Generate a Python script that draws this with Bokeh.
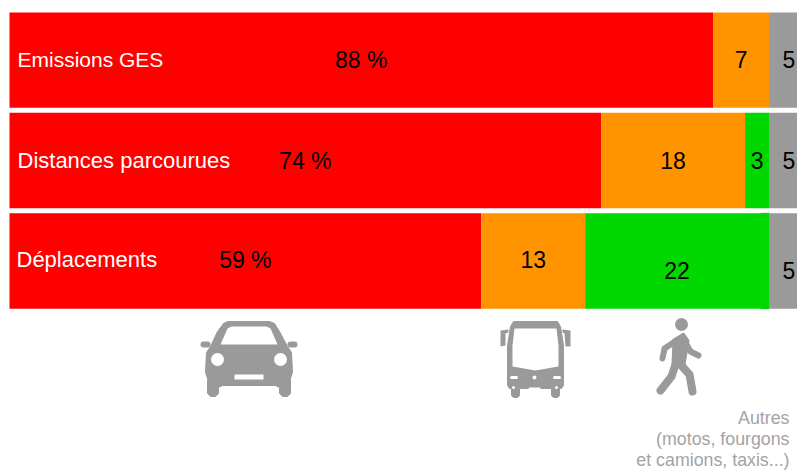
from bokeh.core.properties import value
from bokeh.embed import file_html
from bokeh.models import ColumnDataSource, Range1d
from bokeh.plotting import figure
from bokeh.resources import INLINE

rows = ["Emissions GES", "Distances parcourues", "Déplacements"]
car = [88, 74, 59]
bus = [7, 18, 13]
walk = [0, 3, 22]
other = [5, 5, 5]
# The Déplacements shares are rounded and add up to 99; the spare point sits
# after the walking segment so that every bar still runs to 100.
rounding = [0, 0, 1]
note_lines = ["Autres", "(motos, fourgons", "et camions, taxis...)"]

RED = "#ff0000"
ORANGE = "#ff9400"
GREEN = "#00d800"
GREY = "#9b9a9b"
NOTE = "#a3a3a3"
FONT = value("Liberation Sans")

W, H = 797, 471
UNIT = 7.995  # pixels per percentage point
X0 = 9

row_y = [59.7, 160, 260.5]
row_h = 95.3
number_y = [[59, 59, 59], [160, 160, 160, 160], [259, 259, 270, 270]]

p = figure(
    width=W, height=H, output_backend="svg", toolbar_location=None,
    x_range=Range1d(-X0 / UNIT, (W - X0) / UNIT),
    y_range=Range1d(H, 0),
    min_border=0, outline_line_color=None, background_fill_color="white",
    border_fill_color="white",
)
p.axis.visible = False
p.grid.visible = False


def px(x):
    """Horizontal pixel position to axis units, for the pictograms."""
    return (x - X0) / UNIT


def add_segments(lefts, widths, color, edge=None):
    # Empty segments are left out so that an edge colour cannot leave a sliver.
    kept = [i for i, w in enumerate(widths) if w > 0]
    src = ColumnDataSource(dict(
        y=[row_y[i] for i in kept],
        left=[lefts[i] for i in kept],
        right=[lefts[i] + widths[i] for i in kept],
    ))
    p.hbar(y="y", left="left", right="right", height=row_h, source=src,
           fill_color=color, line_color=edge)


start_bus = car
start_walk = [a + b for a, b in zip(start_bus, bus)]
start_round = [a + b for a, b in zip(start_walk, walk)]
start_other = [a + b for a, b in zip(start_round, rounding)]

add_segments([0, 0, 0], car, RED)
add_segments(start_bus, bus, ORANGE)
add_segments(start_walk, walk, GREEN)
add_segments(start_round, rounding, GREEN, edge=GREEN)
add_segments(start_other, other, GREY)

# Row names; the first one is set a little tighter
p.text(x=[px(17)], y=[59], text=rows[:1],
       text_color="white", text_font=FONT, text_font_size="21px",
       text_align="left", text_baseline="middle")
p.text(x=[px(17), px(16)], y=[160, 259], text=rows[1:],
       text_color="white", text_font=FONT, text_font_size="22px",
       text_align="left", text_baseline="middle")

# Segment values, centred in their segments
num_x, num_y, num_t = [], [], []
for i in range(3):
    segs = [(0, car[i], f"{car[i]} %"), (start_bus[i], bus[i], str(bus[i]))]
    if walk[i]:
        segs.append((start_walk[i], walk[i] + rounding[i], str(walk[i])))
    segs.append((start_other[i], other[i], str(other[i])))
    for (left, width, label), y in zip(segs, number_y[i]):
        num_x.append(left + width / 2)
        num_y.append(y)
        num_t.append(label)
p.text(x=num_x, y=num_y, text=num_t, text_color="black", text_font=FONT,
       text_font_size="23px", text_align="center", text_baseline="middle")

# Note under the grey column
p.text(x=[px(789)] * 3, y=[417, 438, 459], text=note_lines, text_color=NOTE,
       text_font=FONT, text_font_size="17.8px", text_align="right",
       text_baseline="middle")


def shape(points, color=GREY, line=0):
    xs = [px(a) for a, _ in points]
    ys = [b for _, b in points]
    p.patch(xs, ys, fill_color=color, line_color=color if line else None,
            line_width=line, line_join="round")


def dot(x, y, r, color=GREY):
    p.scatter([px(x)], [y], size=2 * r, marker="circle", fill_color=color,
              line_color=None)


def stroke(points, width, color=GREY):
    p.line([px(a) for a, _ in points], [b for _, b in points],
           line_color=color, line_width=width, line_cap="round",
           line_join="round")


# Car pictogram
shape([(223, 323), (227, 321), (269, 321), (274, 323), (279, 331), (287, 346),
       (291, 352), (292, 372), (290, 378), (290, 393), (287, 396), (282, 396),
       (279, 393), (279, 387), (275, 385), (222, 385), (218, 387), (218, 393),
       (215, 396), (210, 396), (207, 393), (207, 378), (205, 372), (206, 352),
       (210, 346), (217, 331)], line=1)
stroke([(203, 344), (207, 344)], 6)
stroke([(290, 344), (294, 344)], 6)
shape([(220, 344), (277, 344), (270, 328), (266, 326), (231, 326), (227, 328)],
      color="white")
dot(217, 359, 6.5, "white")
dot(280, 359, 6.5, "white")
shape([(234, 374), (263, 374), (263, 379), (234, 379)], color="white")

# Bus pictogram
shape([(513, 321), (557, 321), (560, 326), (563, 345), (563, 385), (561, 388),
       (559, 388), (559, 395), (557, 397), (553, 397), (551, 395), (551, 388),
       (519, 388), (519, 395), (517, 397), (513, 397), (511, 395), (511, 388),
       (509, 388), (507, 385), (507, 345), (510, 326)], line=1)
shape([(514, 328), (556, 328), (558, 345), (558, 366), (535, 370), (512, 366),
       (512, 345)], color="white")
shape([(500, 330), (508, 329), (508, 332), (505, 333), (505, 345), (500, 346)])
shape([(570, 330), (562, 329), (562, 332), (564, 333), (565, 346), (570, 346)])
stroke([(511, 377), (516, 377)], 3, "white")
stroke([(554, 377), (559, 377)], 3, "white")
dot(534, 377, 2, "white")
stroke([(529, 388), (539, 388)], 2, "white")
dot(513, 387, 1.5, "white")
dot(556, 387, 1.5, "white")

# Pedestrian pictogram
dot(681, 324, 6.5)
shape([(673, 339), (683, 333), (688, 340), (684, 364), (672, 364)], line=2)
stroke([(673, 342), (664, 348), (662, 358)], 6)
stroke([(685, 342), (690, 351), (698, 355)], 6)
stroke([(675, 364), (671, 376), (660, 390)], 8)
stroke([(680, 364), (689, 374), (692, 391)], 8)

open("out.html", "w").write(file_html(p, INLINE))
